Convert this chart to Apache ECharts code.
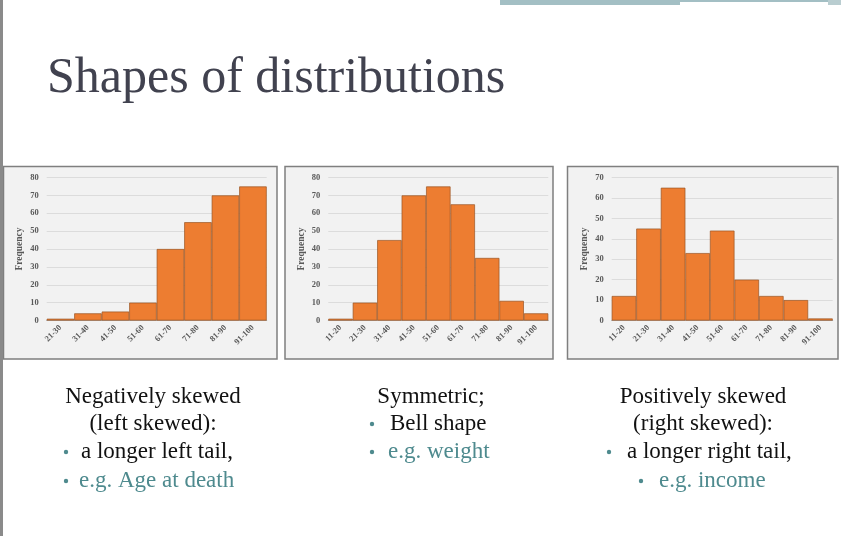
<!DOCTYPE html>
<html>
<head>
<meta charset="utf-8">
<script src="https://cdn.jsdelivr.net/npm/echarts@6/dist/echarts.min.js"></script>
<style>
html,body{margin:0;padding:0;background:#fff;}
#c{width:841px;height:536px;}
</style>
</head>
<body>
<div id="c"></div>
<script>
// ---- data ----
var catsLeft = ['21-30','31-40','41-50','51-60','61-70','71-80','81-90','91-100'];
var valsLeft = [1, 4, 5, 10, 40, 55, 70, 75];
var catsSym = ['11-20','21-30','31-40','41-50','51-60','61-70','71-80','81-90','91-100'];
var valsSym = [1, 10, 45, 70, 75, 65, 35, 11, 4];
var catsRight = ['11-20','21-30','31-40','41-50','51-60','61-70','71-80','81-90','91-100'];
var valsRight = [12, 45, 65, 33, 44, 20, 12, 10, 1];
var yMaxes = [80, 80, 70];
var yStep = 10;
var titleText = 'Shapes of distributions';

var chart = echarts.init(document.getElementById('c'), null, {renderer:'canvas'});

var serif = '"Liberation Serif","DejaVu Serif",serif';
var orange = '#ED7D31';
var labCol = '#595959';
var teal = '#4E8A8E';

var grids = [
  {left: 46.7, top: 177.5, width: 220, height: 143},
  {left: 328.3, top: 177.5, width: 220, height: 143},
  {left: 611.7, top: 177.5, width: 221, height: 143}
];
var cats = [catsLeft, catsSym, catsRight];
var vals = [valsLeft, valsSym, valsRight];

var xAxes = [], yAxes = [], series = [];
for (var i = 0; i < 3; i++) {
  xAxes.push({
    type: 'category', gridIndex: i, data: cats[i],
    axisTick: {show: false},
    axisLine: {lineStyle: {color: '#a6a6a6', width: 1}},
    axisLabel: {rotate: 45, fontFamily: serif, fontWeight: 'bold', fontSize: 8.5, color: labCol, margin: 6, interval: 0}
  });
  yAxes.push({
    type: 'value', gridIndex: i, min: 0, max: yMaxes[i], interval: yStep,
    name: 'Frequency', nameLocation: 'middle', nameRotate: 90, nameGap: 22,
    nameTextStyle: {fontFamily: serif, fontWeight: 'bold', fontSize: 9.5, color: labCol},
    axisLine: {show: false}, axisTick: {show: false},
    axisLabel: {fontFamily: serif, fontWeight: 'bold', fontSize: 8.5, color: labCol, margin: 8},
    splitLine: {lineStyle: {color: '#dcdcdc', width: 1}}
  });
  series.push({
    type: 'bar', xAxisIndex: i, yAxisIndex: i, data: vals[i],
    barCategoryGap: 0, barGap: 0,
    itemStyle: {color: orange, borderColor: '#9a5424', borderWidth: 0.7},
    silent: true
  });
}

function txt(x, y, s, color, align) {
  return {type: 'text', x: x, y: y, style: {text: s, fill: color, font: '23px ' + serif, textAlign: align || 'left', textVerticalAlign: 'middle'}};
}
function bullet(x, y) {
  return {type: 'circle', shape: {cx: x, cy: y, r: 2.2}, style: {fill: teal}};
}

var frames = [[3.5, 166.5, 273.5, 192.5], [285, 166.5, 268, 192.5], [567.5, 166.5, 270.5, 192.5]];
var graphics = [];
frames.forEach(function(f){
  graphics.push({type:'rect', z:-10, shape:{x:f[0], y:f[1], width:f[2], height:f[3]}, style:{fill:'#f2f2f2', stroke:'#7f7f7f', lineWidth:1.5}});
});
graphics.push({type:'rect', shape:{x:0, y:0, width:3, height:536}, style:{fill:'#8a8a8a'}});
graphics.push({type:'rect', shape:{x:500, y:0, width:180, height:5}, style:{fill:'#a3bfc4'}});
graphics.push({type:'rect', shape:{x:680, y:0, width:148, height:2}, style:{fill:'#a3bfc4'}});
graphics.push({type:'rect', shape:{x:828, y:0, width:13, height:5}, style:{fill:'#b9cdd0'}});
graphics.push({type:'text', x: 47, y: 104, style:{text: titleText, fill:'#41424f', font:'50px ' + serif, textAlign:'left', textVerticalAlign:'bottom'}});

// column 1
graphics.push(txt(153, 397, 'Negatively skewed', '#111', 'center'));
graphics.push(txt(153, 424, '(left skewed):', '#111', 'center'));
graphics.push(bullet(66, 452)); graphics.push(txt(81, 452, 'a longer left tail,', '#111'));
graphics.push(bullet(66, 481)); graphics.push(txt(79, 481, 'e.g. Age at death', teal));
// column 2
graphics.push(txt(431, 397, 'Symmetric;', '#111', 'center'));
graphics.push(bullet(372, 424)); graphics.push(txt(390, 424, 'Bell shape', '#111'));
graphics.push(bullet(372, 452)); graphics.push(txt(388, 452, 'e.g. weight', teal));
// column 3
graphics.push(txt(703, 397, 'Positively skewed', '#111', 'center'));
graphics.push(txt(703, 424, '(right skewed):', '#111', 'center'));
graphics.push(bullet(609, 452)); graphics.push(txt(627, 452, 'a longer right tail,', '#111'));
graphics.push(bullet(641, 481)); graphics.push(txt(659, 481, 'e.g. income', teal));

chart.setOption({
  animation: false,
  backgroundColor: '#fff',
  grid: grids,
  xAxis: xAxes,
  yAxis: yAxes,
  series: series,
  graphic: graphics
});
</script>
</body>
</html>
